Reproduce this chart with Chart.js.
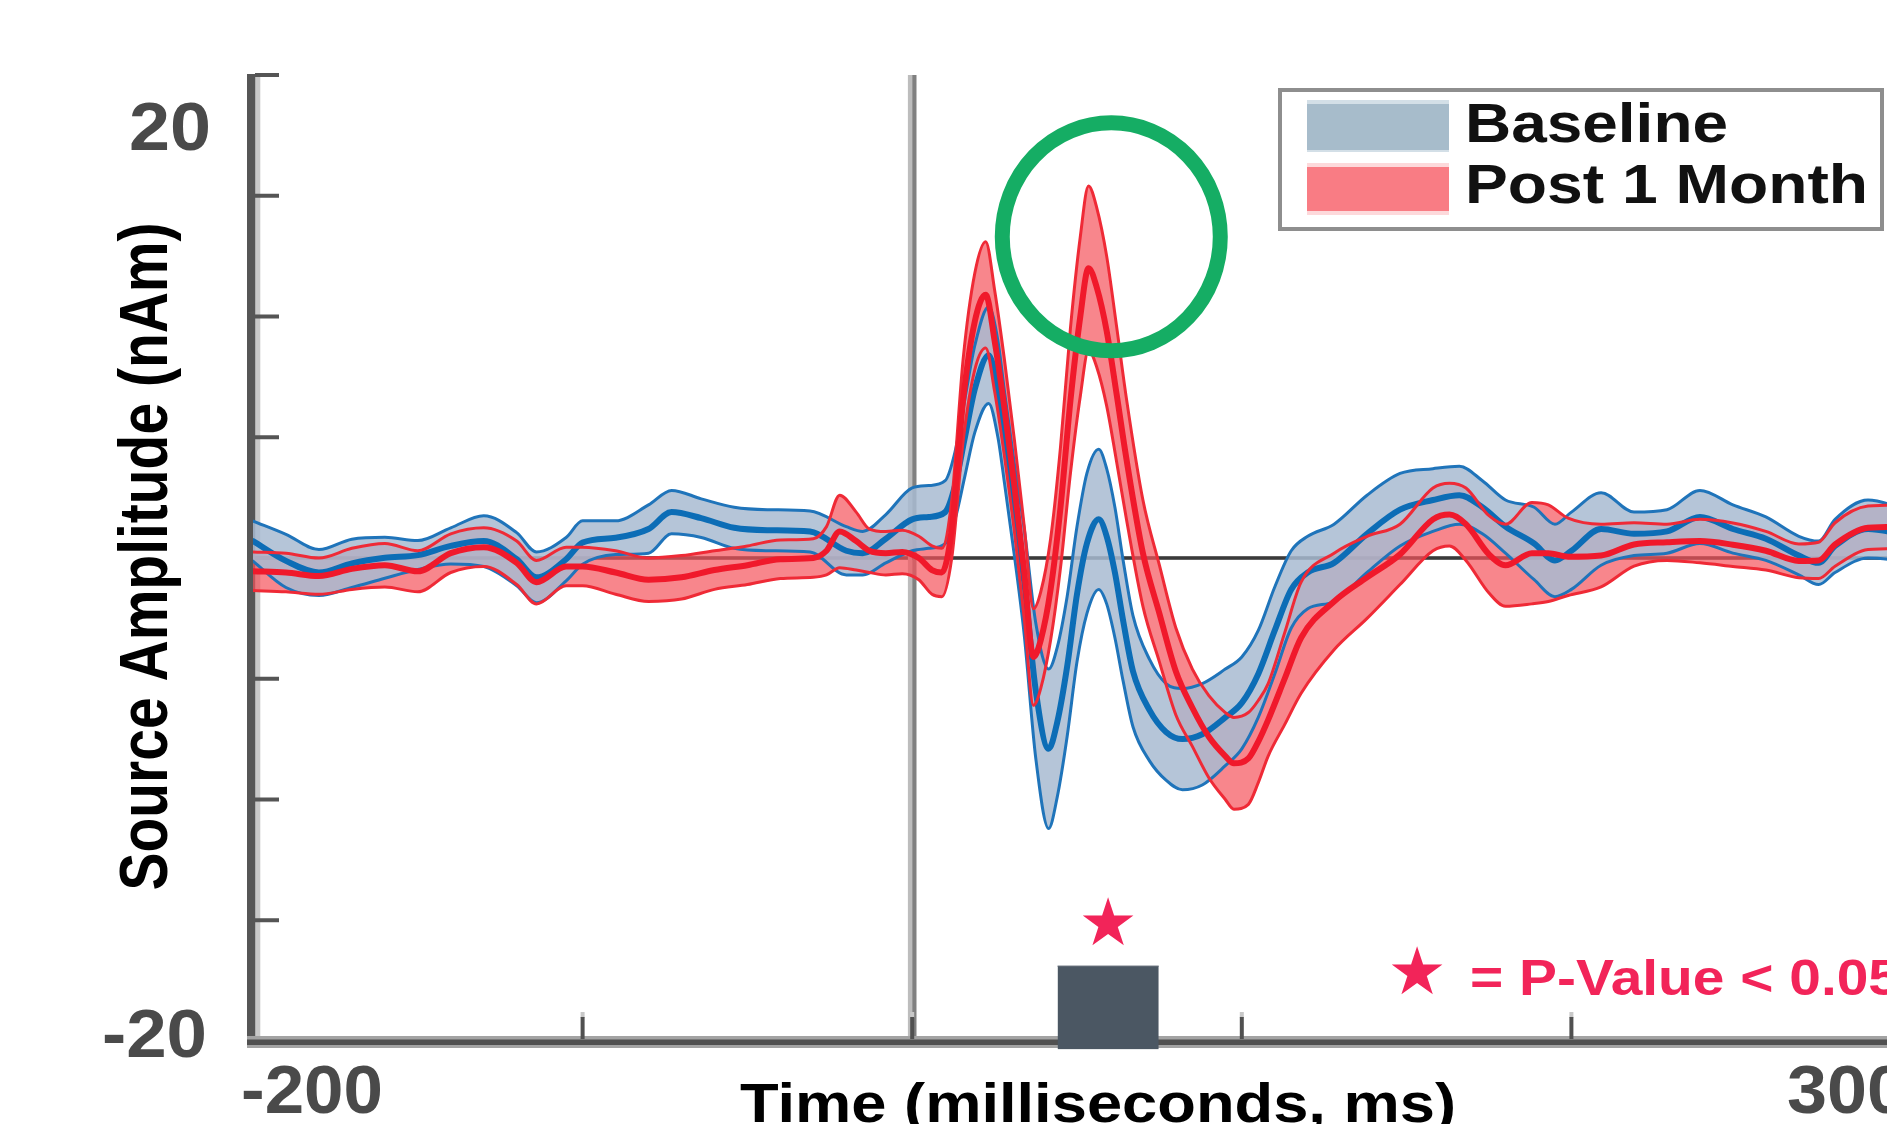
<!DOCTYPE html>
<html><head><meta charset="utf-8">
<script src="https://cdn.jsdelivr.net/npm/chart.js@4.4.1/dist/chart.umd.min.js"></script>
<style>html,body{margin:0;padding:0;overflow:hidden;background:#fff;width:1887px;height:1124px}canvas{display:block}</style>
</head><body>
<canvas id="c" width="1940" height="1124" style="width:1940px;height:1124px"></canvas>
<script>
// ---- data (time in ms, amplitude in nAm) ----
const baseTime=[-200,-190,-180,-170,-160,-150,-140,-130,-120,-114,-105,-100,-90,-80,-73,-64,-54,-44,-31,-20,-15,-8,0,5,10,13,16,19,23.2,26,28,31,34,37.5,41.4,44,47,50,53,56.6,59,61.5,64,67,72,77,82,88,95,100,105,110,115,120,128,138,148,158,166,173,180,188.7,195,200,209,219,229,239,249,259,269,275,280,290,300];
const baseMean=[0.70,-0.12,-0.60,-0.22,0.01,0.12,0.50,0.70,-0.05,-0.80,
 -0.05,0.64,0.84,1.2,1.9,1.65,1.25,1.15,1.1,0.3,
 0.2,0.8,1.6,1.7,1.9,3.0,5.0,7.0,8.4,7.0,
 5.0,2.0,-1.0,-5.5,-7.9,-6.8,-4.5,-1.5,0.6,1.6,
 0.9,-0.6,-2.6,-4.7,-6.3,-7.2,-7.5,-7.3,-6.6,-6.0,
 -4.8,-3.0,-1.3,-0.6,-0.2,1.0,2.0,2.4,2.6,2.1,
 1.3,0.6,-0.1,0.3,1.2,1.0,1.1,1.7,1.2,0.8,
 0.1,-0.2,0.5,1.2,1.0];
const baseSem=[0.83,1.1,0.95,1.0,0.85,0.6,0.75,1.05,1.1,1.05,
 0.9,0.9,0.7,1.0,0.9,0.8,0.85,0.85,0.85,1.0,
 0.9,1.0,1.3,1.3,1.3,1.4,1.6,1.8,2.0,2.0,
 1.9,1.9,2.2,2.8,3.3,3.1,2.9,2.8,2.9,2.9,
 2.8,2.7,2.5,2.3,2.1,2.0,2.1,2.1,2.0,1.9,
 1.8,1.8,1.6,1.5,1.6,1.6,1.5,1.3,1.2,1.1,
 1.1,1.5,1.5,1.6,1.5,0.9,0.9,1.1,1.0,0.9,
 0.8,0.9,1.1,1.2,1.1];

const postTime=[-200,-190,-180,-170,-160,-150,-140,-130,-120,-114,-105,-100,-90,-80,-70,-60,-50,-40,-30,-26,-22,-17,-13,-8,-3,2,6,9,12,15.5,19,22.3,25,28,31,34,36.8,39,42,45,48,51,53.5,56,59,62,65,70,75,80,85,90,95,97.6,102,105,108,113,118,128,138,148,158,163,168,175,180,188,193,199,209,219,229,239,249,259,269,275,280,290,300];
const postMean=[-0.55,-0.6,-0.75,-0.45,-0.3,-0.55,0.2,0.45,-0.2,-1.0,
 -0.35,-0.35,-0.6,-0.9,-0.8,-0.5,-0.3,-0.05,0.0,0.3,
 1.1,0.7,0.3,0.2,0.25,0.0,-0.5,-0.6,1.2,6.6,
 9.8,10.9,9.0,6.2,3.0,-0.6,-4.1,-3.4,-1.3,2.1,
 6.5,10.0,12.0,11.2,9.4,6.8,4.1,0.2,-2.3,-4.7,
 -6.2,-7.4,-8.2,-8.5,-8.3,-7.6,-6.7,-5.0,-3.3,-1.8,
 -0.8,0.15,1.6,1.8,1.4,0.15,-0.3,0.2,0.2,0.05,
 0.1,0.56,0.65,0.7,0.55,0.3,-0.12,-0.1,0.56,1.25,
 1.3];
const postSem=[0.8,0.8,0.75,0.85,0.9,0.85,0.8,0.8,0.9,0.9,
 0.8,0.8,0.9,0.9,0.9,0.8,0.8,0.8,0.8,1.0,
 1.5,1.2,0.9,0.9,0.9,0.9,1.0,1.0,1.2,1.7,
 2.0,2.2,2.1,2.0,1.9,1.9,2.0,2.0,2.1,2.5,
 3.0,3.3,3.4,3.3,3.1,2.8,2.5,2.2,2.0,1.8,
 1.6,1.7,1.8,1.9,1.9,1.7,1.5,1.9,2.3,2.0,
 1.7,1.25,1.3,1.3,1.5,1.6,1.7,2.1,2.0,1.6,
 1.3,0.9,0.75,0.9,0.9,0.8,0.7,0.75,0.9,0.9,
 0.9];

// significant window (ms) and its bar top (nAm)
const sigStart=[44.1], sigEnd=[74.8], sigTop=[-16.9];
const seriesNames=['Baseline','Post 1 Month'];
const yTickVals=[20,-20], yTickText=['20','-20'];
const xTickVals=[-200,300], xTickText=['-200','300'];
const yMinorTicks=[-15,-10,-5,0,5,10,15,20];
const xMinorTicks=[-100,0,100,200,300];

// ---- helpers ----
const pts=(t,v)=>t.map((x,i)=>({x:x,y:v[i]}));
const shift=(m,s,k)=>m.map((v,i)=>v+k*s[i]);
const common={pointRadius:0,cubicInterpolationMode:'monotone',fill:false,borderJoinStyle:'round',borderCapStyle:'round'};
const clear='rgba(0,0,0,0)';

const datasets=[
 Object.assign({label:'Post 1 Month',data:pts(postTime,postMean),borderColor:'#f0192b',borderWidth:6},common),
 Object.assign({label:'post+',data:pts(postTime,shift(postMean,postSem,1)),borderColor:'#ef2a36',borderWidth:3},common),
 Object.assign({label:'post-',data:pts(postTime,shift(postMean,postSem,-1)),borderColor:'#ef2a36',borderWidth:3},common),
 Object.assign({label:'Baseline',data:pts(baseTime,baseMean),borderColor:'#0c6db6',borderWidth:6},common),
 Object.assign({label:'base+',data:pts(baseTime,shift(baseMean,baseSem,1)),borderColor:'#1f74ba',borderWidth:3},common),
 Object.assign({label:'base-',data:pts(baseTime,shift(baseMean,baseSem,-1)),borderColor:'#1f74ba',borderWidth:3},common),
 Object.assign({},common,{label:'baseBand',data:pts(baseTime,shift(baseMean,baseSem,1)),borderColor:clear,borderWidth:1,fill:'+1',backgroundColor:'rgba(168,187,209,0.85)'}),
 Object.assign({},common,{label:'baseBandLow',data:pts(baseTime,shift(baseMean,baseSem,-1)),borderColor:clear,borderWidth:1}),
 Object.assign({},common,{label:'postBand',data:pts(postTime,shift(postMean,postSem,1)),borderColor:clear,borderWidth:1,fill:'+1',backgroundColor:'rgba(245,82,91,0.7)'}),
 Object.assign({},common,{label:'postBandLow',data:pts(postTime,shift(postMean,postSem,-1)),borderColor:clear,borderWidth:1}),
 {label:'sig',data:[{x:sigStart[0],y:sigTop[0]},{x:sigEnd[0],y:sigTop[0]}],pointRadius:0,borderColor:'#4b5763',borderWidth:1,backgroundColor:'#4b5763',fill:{value:-20.35},tension:0}
];

function stext(ctx,s,x,y,font,color,align,width){
  ctx.save();ctx.font=font;ctx.fillStyle=color;ctx.textBaseline='alphabetic';
  const w=ctx.measureText(s).width;const sx=width?width/w:1;
  ctx.translate(x,y);ctx.scale(sx,1);ctx.textAlign=align;ctx.fillText(s,0,0);ctx.restore();
}

const deco={
 id:'deco',
 beforeDraw(chart){
  const ctx=chart.ctx,xs=chart.scales.x,ys=chart.scales.y;
  const X=v=>xs.getPixelForValue(v),Y=v=>ys.getPixelForValue(v);
  ctx.save();
  ctx.fillStyle='#fff';ctx.fillRect(0,0,chart.width,chart.height);
  const x0=X(-200),yb=Y(-20),yt=Y(20);
  // zero line
  ctx.fillStyle='#3a3a3a';ctx.fillRect(x0,Y(0)-1.8,chart.width-x0,3.6);
  // vertical line at t=0
  ctx.fillStyle='#bdbdbd';ctx.fillRect(X(0)-4.3,yt,4.3,yb-yt);
  ctx.fillStyle='#808080';ctx.fillRect(X(0),yt,4.3,yb-yt);
  // left axis
  ctx.fillStyle='#c9c9c9';ctx.fillRect(x0+2.3,yt-1,5,yb-yt+6);
  ctx.fillStyle='#565656';ctx.fillRect(x0-6,yt-1,8.3,yb-yt+7);
  // y ticks (inward)
  ctx.fillStyle='#555';
  yMinorTicks.forEach(v=>{ctx.fillRect(x0+2,Y(v)-2,24,4);});
  // bottom axis
  ctx.fillStyle='#a3a3a3';ctx.fillRect(x0-6,yb-5,chart.width,12);
  ctx.fillStyle='#505050';ctx.fillRect(x0-6,yb-1.5,chart.width,5.5);
  // x ticks (inward)
  xMinorTicks.forEach(v=>{ctx.fillStyle='#c8c8c8';ctx.fillRect(X(v)-2,yb-29,4,6);ctx.fillStyle='#505050';ctx.fillRect(X(v)-2,yb-24,4,22);});
  ctx.restore();
 },
 afterDraw(chart){
  const ctx=chart.ctx,xs=chart.scales.x,ys=chart.scales.y;
  const X=v=>xs.getPixelForValue(v),Y=v=>ys.getPixelForValue(v);
  const x0=X(-200),yb=Y(-20);
  const tf='bold 68px "Liberation Sans", Arial, sans-serif';
  // tick labels (drawn MATLAB-style, pushed inward)
  stext(ctx,yTickText[0],x0-42,Y(yTickVals[0])+75,tf,'#4a4a4a','right',82);
  stext(ctx,yTickText[1],x0-46,Y(yTickVals[1])+16,tf,'#4a4a4a','right',105);
  stext(ctx,xTickText[0],X(xTickVals[0])-12,yb+72,tf,'#4a4a4a','left',142);
  stext(ctx,xTickText[1],X(xTickVals[1])-114,yb+72,tf,'#4a4a4a','left',120);
  // axis titles
  stext(ctx,'Time (milliseconds, ms)',1098,1122,'bold 56px "Liberation Sans", Arial, sans-serif','#000','center',716);
  ctx.save();ctx.translate(167,556.5);ctx.rotate(-Math.PI/2);
  stext(ctx,'Source Amplitude (nAm)',0,0,'bold 68px "Liberation Sans", Arial, sans-serif','#000','center',668);
  ctx.restore();
  // legend
  ctx.save();
  ctx.fillStyle='#fff';ctx.fillRect(1278,88,606,143);
  ctx.strokeStyle='#8e8e8e';ctx.lineWidth=4;ctx.strokeRect(1280,90,602,139);
  ctx.fillStyle='#d3dfe7';ctx.fillRect(1307,100,142,52);
  ctx.fillStyle='#a7bccb';ctx.fillRect(1307,104,142,46);
  ctx.fillStyle='#fdd9db';ctx.fillRect(1307,163,142,52);
  ctx.fillStyle='#f97c84';ctx.fillRect(1307,167,142,44);
  ctx.restore();
  stext(ctx,seriesNames[0],1465,142,'bold 56px "Liberation Sans", Arial, sans-serif','#111','left',263);
  stext(ctx,seriesNames[1],1465,203,'bold 56px "Liberation Sans", Arial, sans-serif','#111','left',403);
  // green highlight circle around the second peak
  ctx.save();ctx.strokeStyle='#15ad64';ctx.lineWidth=15;
  ctx.beginPath();ctx.ellipse(X(60.4),Y(13.3),109,114,0,0,Math.PI*2);ctx.stroke();ctx.restore();
  // significance star above the bar
  ctx.save();ctx.font='66px "DejaVu Sans", sans-serif';ctx.fillStyle='#f22459';
  ctx.textAlign='center';ctx.textBaseline='middle';
  ctx.fillText('\u2605',X((sigStart[0]+sigEnd[0])/2),Y(-15.3));
  ctx.fillText('\u2605',1417,977);
  ctx.restore();
  stext(ctx,'= P-Value < 0.05',1470,995,'bold 50px "Liberation Sans", Arial, sans-serif','#f22459','left',430);
 }
};

new Chart(document.getElementById('c'),{
 type:'line',
 data:{datasets:datasets},
 options:{
  responsive:false,maintainAspectRatio:false,devicePixelRatio:1,animation:false,events:[],
  layout:{padding:{left:253,right:39,top:75,bottom:74.55}},
  scales:{
   x:{type:'linear',min:-200,max:300,display:false},
   y:{type:'linear',min:-20.35,max:20,display:false}
  },
  plugins:{legend:{display:false},tooltip:{enabled:false},filler:{drawTime:'beforeDatasetsDraw',propagate:false}}
 },
 plugins:[deco]
});
</script></body></html>
